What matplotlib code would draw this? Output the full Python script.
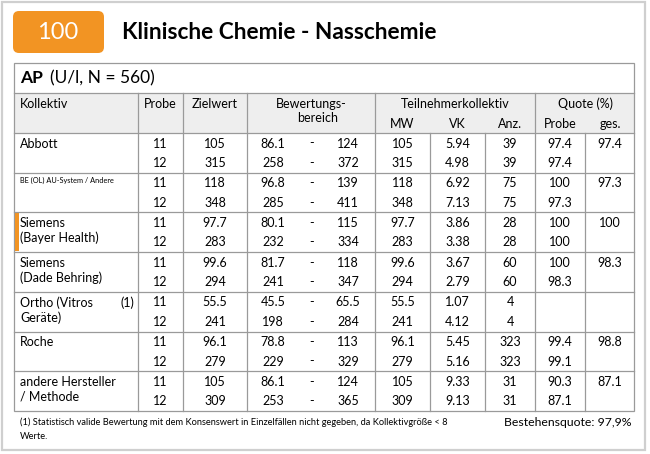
import matplotlib
matplotlib.use("Agg")
import matplotlib.pyplot as plt
from matplotlib.patches import Rectangle, FancyBboxPatch

plt.rcParams['font.family'] = ['Lato', 'DejaVu Sans']

# ---------------- data ----------------
kollektiv = ["Abbott", "BE (OL) AU-System / Andere", "Siemens\n(Bayer Health)",
             "Siemens\n(Dade Behring)", "Ortho (Vitros\nGeräte)", "Roche",
             "andere Hersteller\n/ Methode"]
footnote_mark = [None, None, None, None, "(1)", None, None]
proben = [11, 12]
zielwert = [[105, 315], [118, 348], [97.7, 283], [99.6, 294], [55.5, 241], [96.1, 279], [105, 309]]
bereich_lo = [[86.1, 258], [96.8, 285], [80.1, 232], [81.7, 241], [45.5, 198], [78.8, 229], [86.1, 253]]
bereich_hi = [[124, 372], [139, 411], [115, 334], [118, 347], [65.5, 284], [113, 329], [124, 365]]
mw = [[105, 315], [118, 348], [97.7, 283], [99.6, 294], [55.5, 241], [96.1, 279], [105, 309]]
vk = [[5.94, 4.98], [6.92, 7.13], [3.86, 3.38], [3.67, 2.79], [1.07, 4.12], [5.45, 5.16], [9.33, 9.13]]
anz = [[39, 39], [75, 75], [28, 28], [60, 60], [4, 4], [323, 323], [31, 31]]
quote_probe = [[97.4, 97.4], [100, 97.3], [100, 100], [100, 98.3], [None, None], [99.4, 99.1], [90.3, 87.1]]
quote_ges = [97.4, 97.3, 100, 98.3, None, 98.8, 87.1]

title_num = "100"
title = "Klinische Chemie - Nasschemie"
analyte = "AP"
analyte_info = "(U/l, N = 560)"
footnote = ("(1) Statistisch valide Bewertung mit dem Konsenswert in Einzelfällen nicht gegeben, "
            "da Kollektivgröße < 8\nWerte.")
bestehensquote = "Bestehensquote: 97,9%"

# ---------------- layout ----------------
W, H = 650, 454
ORANGE = "#F29423"
GRID = "#9a9a9a"
fig = plt.figure(figsize=(W / 100, H / 100), dpi=100)
ax = fig.add_axes([0, 0, 1, 1])
ax.set_xlim(0, W)
ax.set_ylim(H, 0)
ax.axis("off")

def fmt(v):
    return "" if v is None else f"{v:g}"

# outer frame
ax.add_patch(Rectangle((2, 2), 643, 448, fill=False, ec="#cfcfcf", lw=1.6))

# orange number box
ax.add_patch(FancyBboxPatch((13, 11), 91, 42, boxstyle="round,pad=0,rounding_size=6",
                            fc=ORANGE, ec="none"))
ax.text(58, 32.5, title_num, color="white", fontsize=17, ha="center", va="center")
ax.text(122, 32.5, title, color="black", fontsize=16.3, fontweight="bold", ha="left", va="center")

# table geometry
L, R = 14, 634
top, hdr_top, hdr_bot = 63, 93, 133
grp_h = 39.7
n = len(kollektiv)
bottom = hdr_bot + n * grp_h
main_cols = [138, 183, 247, 375, 535]
sub_cols = [430, 485, 585]

# header background
ax.add_patch(Rectangle((L, hdr_top), R - L, hdr_bot - hdr_top, fc="#eeeeee", ec="none"))

lw = 0.9
ax.add_patch(Rectangle((L, top), R - L, bottom - top, fill=False, ec=GRID, lw=lw))
for y in [hdr_top, hdr_bot]:
    ax.plot([L, R], [y, y], color=GRID, lw=lw)
for i in range(1, n):
    y = hdr_bot + i * grp_h
    ax.plot([L, R], [y, y], color=GRID, lw=lw)
for x in main_cols:
    ax.plot([x, x], [hdr_top, bottom], color=GRID, lw=lw)
for x in sub_cols:
    ax.plot([x, x], [hdr_bot, bottom], color=GRID, lw=lw)

# analyte row
ax.text(20, 78, analyte, fontsize=12.5, fontweight="bold", ha="left", va="center")
ax.text(50, 78, analyte_info, fontsize=12.5, ha="left", va="center")

# header texts
fs = 9
hy1, hy2 = 104, 124
ax.text(20, hy1, "Kollektiv", fontsize=fs, ha="left", va="center")
ax.text(160.5, hy1, "Probe", fontsize=fs, ha="center", va="center")
ax.text(215, hy1, "Zielwert", fontsize=fs, ha="center", va="center")
ax.text(311, hy1, "Bewertungs-", fontsize=fs, ha="center", va="center")
ax.text(318, hy1 + 14, "bereich", fontsize=fs, ha="center", va="center")
ax.text(455, hy1, "Teilnehmerkollektiv", fontsize=fs, ha="center", va="center")
ax.text(402.5, hy2, "MW", fontsize=fs, ha="center", va="center")
ax.text(457.5, hy2, "VK", fontsize=fs, ha="center", va="center")
ax.text(510, hy2, "Anz.", fontsize=fs, ha="center", va="center")
ax.text(585, hy1, "Quote (%)", fontsize=fs, ha="center", va="center")
ax.text(560, hy2, "Probe", fontsize=fs, ha="center", va="center")
ax.text(610, hy2, "ges.", fontsize=fs, ha="center", va="center")

# data rows
for g in range(n):
    gt = hdr_bot + g * grp_h
    r1 = gt + 10.5
    if kollektiv[g].startswith("BE"):
        ax.text(20, r1 - 3, kollektiv[g], fontsize=5.3, ha="left", va="center")
    else:
        lines = kollektiv[g].split("\n")
        for k, line in enumerate(lines):
            ax.text(20, r1 + k * 15, line, fontsize=fs, ha="left", va="center")
    if footnote_mark[g]:
        ax.text(134, r1, footnote_mark[g], fontsize=fs, ha="right", va="center")
    if g == 2:
        ax.add_patch(Rectangle((15, gt + 1), 3.5, grp_h - 2, fc=ORANGE, ec="none"))
    for j in range(2):
        y = r1 + j * 19.5
        ax.text(160.5, y, str(proben[j]), fontsize=fs, ha="center", va="center")
        ax.text(215, y, fmt(zielwert[g][j]), fontsize=fs, ha="center", va="center")
        ax.text(273, y, fmt(bereich_lo[g][j]), fontsize=fs, ha="center", va="center")
        ax.text(312, y, "-", fontsize=fs, ha="center", va="center")
        ax.text(348, y, fmt(bereich_hi[g][j]), fontsize=fs, ha="center", va="center")
        ax.text(402.5, y, fmt(mw[g][j]), fontsize=fs, ha="center", va="center")
        ax.text(457.5, y, fmt(vk[g][j]), fontsize=fs, ha="center", va="center")
        ax.text(510, y, fmt(anz[g][j]), fontsize=fs, ha="center", va="center")
        ax.text(560, y, fmt(quote_probe[g][j]), fontsize=fs, ha="center", va="center")
    ax.text(610, r1, fmt(quote_ges[g]), fontsize=fs, ha="center", va="center")

# footnote and pass rate
ax.text(20, 417.5, footnote, fontsize=6.7, ha="left", va="top", linespacing=1.75)
ax.text(632, 422, bestehensquote, fontsize=8.8, ha="right", va="center")

fig.savefig("out.png", dpi=100)
